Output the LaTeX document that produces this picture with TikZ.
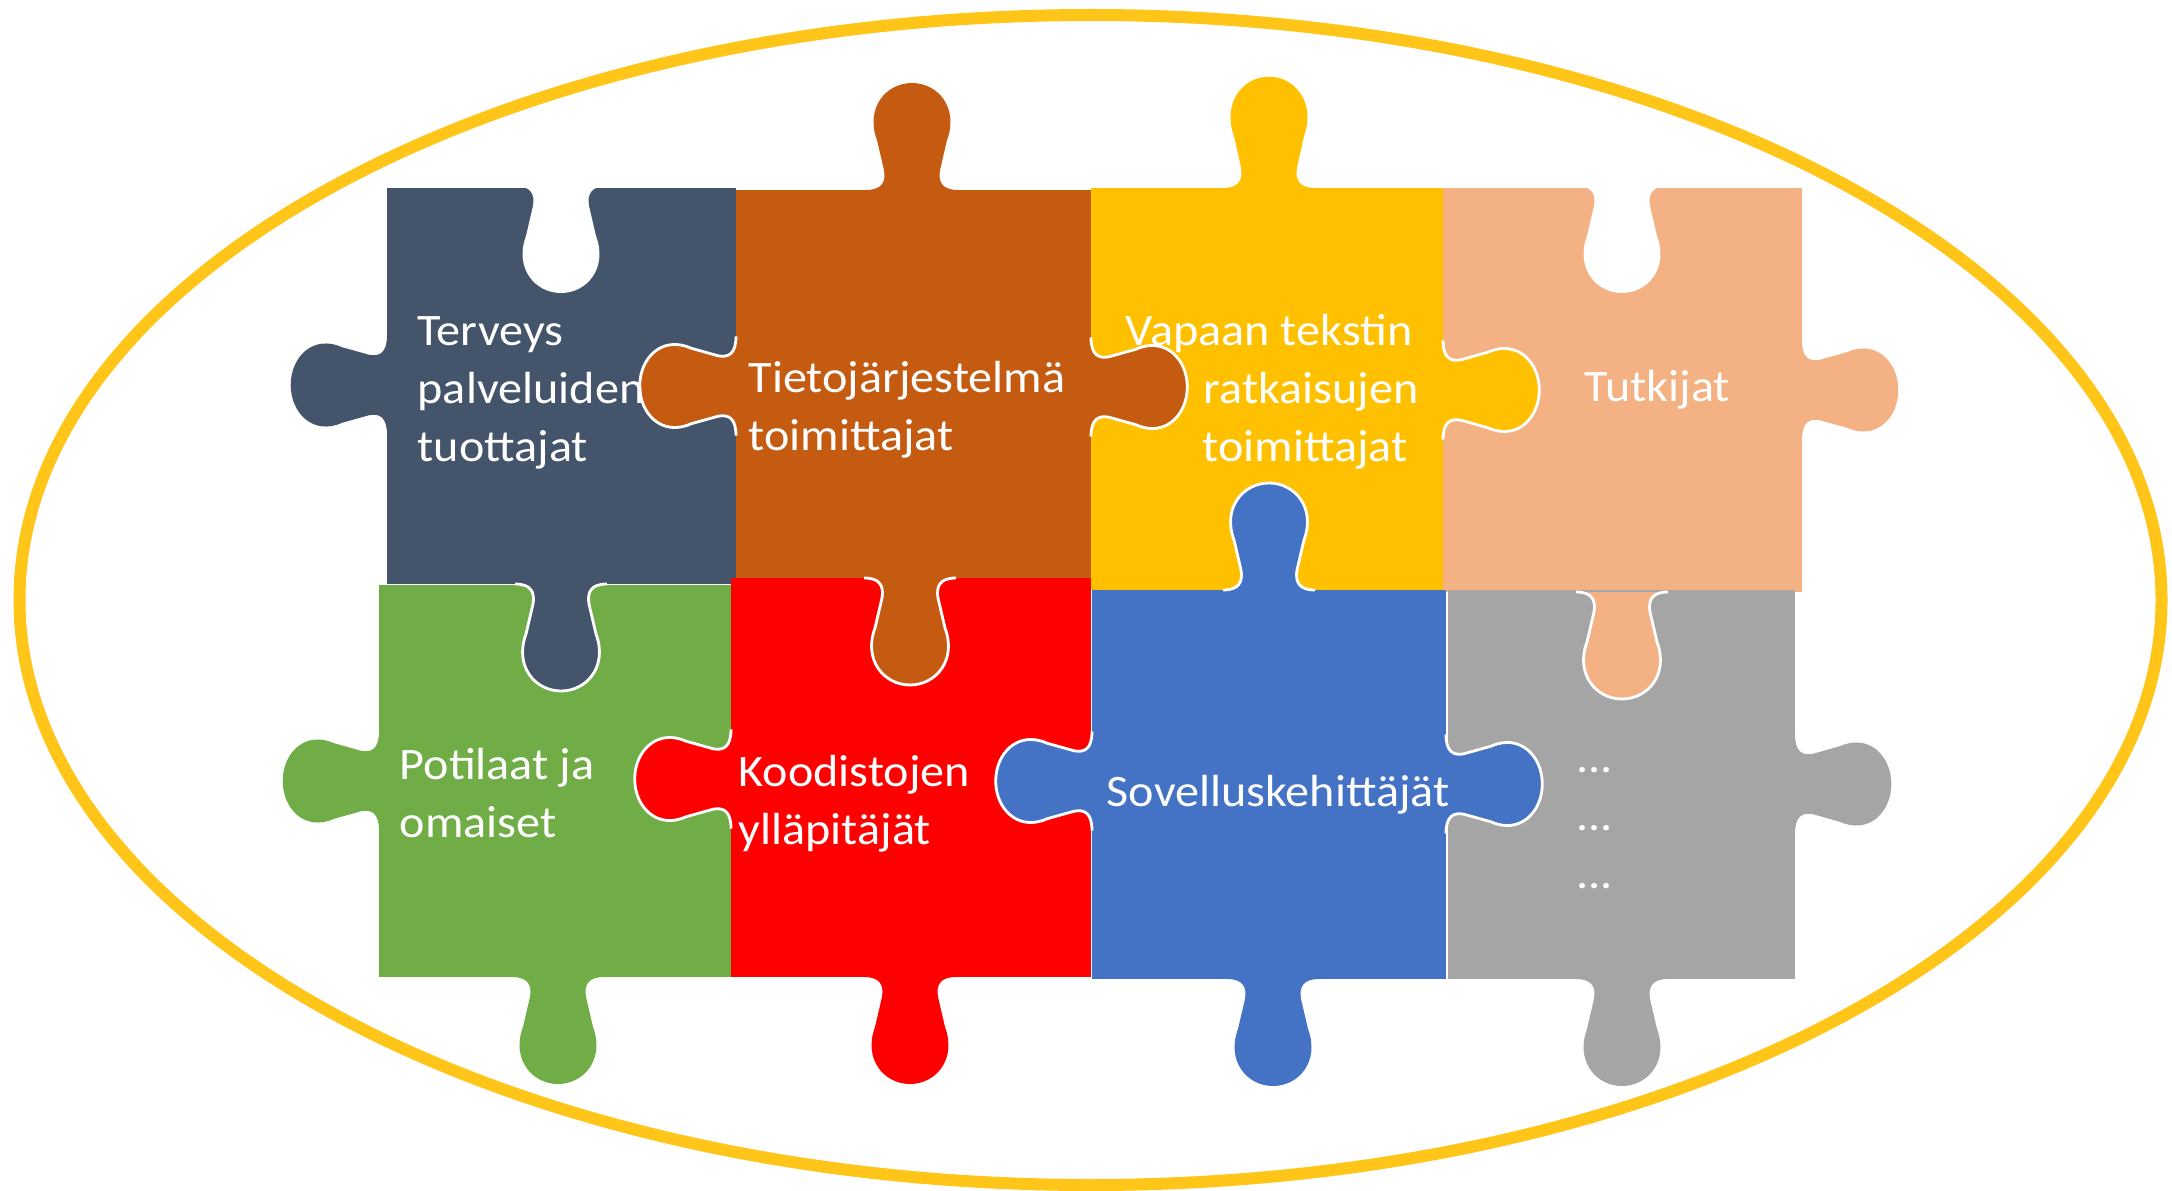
\documentclass[tikz,border=0pt]{standalone}
\usepackage{fontspec}
\setmainfont{Carlito}[FakeStretch=1.07]
\definecolor{piecenavy}{HTML}{44546A}
\definecolor{piecebrown}{HTML}{C55A11}
\definecolor{pieceyellow}{HTML}{FFC000}
\definecolor{piecepeach}{HTML}{F4B183}
\definecolor{piecegreen}{HTML}{70AD47}
\definecolor{piecered}{HTML}{FF0000}
\definecolor{pieceblue}{HTML}{4472C4}
\definecolor{piecegray}{HTML}{A5A5A5}
\definecolor{ringgold}{HTML}{FFC519}
\tikzset{
	puzzle/.style={
		x=0.01cm,
		y=-0.01cm, % pixel grid, y going down
	},
	knob/.pic={
		\path[pic actions] (-46,0) .. controls (-30,0) and (-26,8) .. (-28,20)
			-- (-35,50) .. controls (-47,82) and (-26,107) .. (0,107)
			.. controls (26,107) and (47,82) .. (35,50)
			-- (28,20) .. controls (26,8) and (30,0) .. (46,0);
	},
	side knob/.style={xscale=1.08,yscale=0.9},
	inner knob/.style={draw=white,line width=0.8pt},
	hole/.style={fill=white},
	piece label/.style={% anchored at the baseline of the last line
		text=white,
		inner sep=0pt,
		anchor=base west,
		align=left,
		font=\fontsize{12.8}{16.4}\selectfont
	},
	ring/.style={draw=ringgold,line width=0.12cm}
}

\begin{document}
\begin{tikzpicture}[puzzle]
	\useasboundingbox (0,0) rectangle (2172,1191);
	\draw[ring] (1090.5,600) ellipse [x radius=1071,y radius=585];
	% the eight bodies
	\foreach \col/\ax/\ay/\bx/\by in {
			piecenavy/387/188/736/584, piecebrown/736/190/1091/578,
			pieceyellow/1091/188/1443/590, piecepeach/1443/188/1802/592,
			piecegreen/379/585/731/977, piecered/731/578/1091/977,
			pieceblue/1092/590/1446/979, piecegray/1448/590/1795/979}
		\fill[\col] (\ax,\ay) rectangle (\bx,\by);
	% navy
	\pic[fill=piecenavy,rotate=-90,side knob] at (387,385) {knob};
	\pic[fill=piecenavy,inner knob] at (561,584) {knob};
	\pic[hole] at (561,186) {knob};
	% brown
	\pic[fill=piecebrown,rotate=180] at (912,190) {knob};
	\pic[fill=piecebrown,inner knob,rotate=-90,side knob] at (736,386) {knob};
	\pic[fill=piecebrown,inner knob,rotate=90,side knob] at (1091,387) {knob};
	\pic[fill=piecebrown,inner knob] at (910,578) {knob};
	% yellow
	\pic[fill=pieceyellow,rotate=180,yscale=1.04] at (1269,188) {knob};
	\pic[fill=pieceyellow,inner knob,rotate=90,side knob] at (1443,390) {knob};
	% peach
	\pic[hole] at (1622,186) {knob};
	\pic[fill=piecepeach,rotate=90,side knob] at (1802,390) {knob};
	\pic[fill=piecepeach,inner knob] at (1622,592) {knob};
	% green
	\pic[fill=piecegreen,rotate=-90,side knob] at (379,781) {knob};
	\pic[fill=piecegreen] at (558,977) {knob};
	% red
	\pic[fill=piecered,inner knob,rotate=-90,side knob] at (731,779) {knob};
	\pic[fill=piecered] at (910,977) {knob};
	% blue
	\pic[fill=pieceblue,inner knob,rotate=180] at (1269,590) {knob};
	\pic[fill=pieceblue,inner knob,rotate=-90,side knob] at (1092,781) {knob};
	\pic[fill=pieceblue,inner knob,rotate=90,side knob] at (1446,784) {knob};
	\pic[fill=pieceblue] at (1273,979) {knob};
	% gray
	\pic[fill=piecegray,rotate=90,side knob] at (1795,784) {knob};
	\pic[fill=piecegray] at (1622,979) {knob};
	% labels
	\node[piece label] (terveys) at (417,461) {Terveys\\palveluiden\\tuottajat};
	\node[piece label] (tieto) at (748,450) {Tietojärjestelmä\\toimittajat};
	\node[piece label] (vapaa) at (1125,461) {Vapaan tekstin\\\hspace*{0.78cm}ratkaisujen\\\hspace*{0.77cm}toimittajat};
	\node[piece label] (tutkijat) at (1584,402) {Tutkijat};
	\node[piece label] (potilaat) at (399,837) {Potilaat ja\\omaiset};
	\node[piece label] (koodisto) at (738,844) {Koodistojen\\ylläpitäjät};
	\node[piece label] (sovellus) at (1106,806) {Sovelluskehittäjät};
	\node[piece label] (muut) at (1576,888) {...\\...\\...};
\end{tikzpicture}
\end{document}
